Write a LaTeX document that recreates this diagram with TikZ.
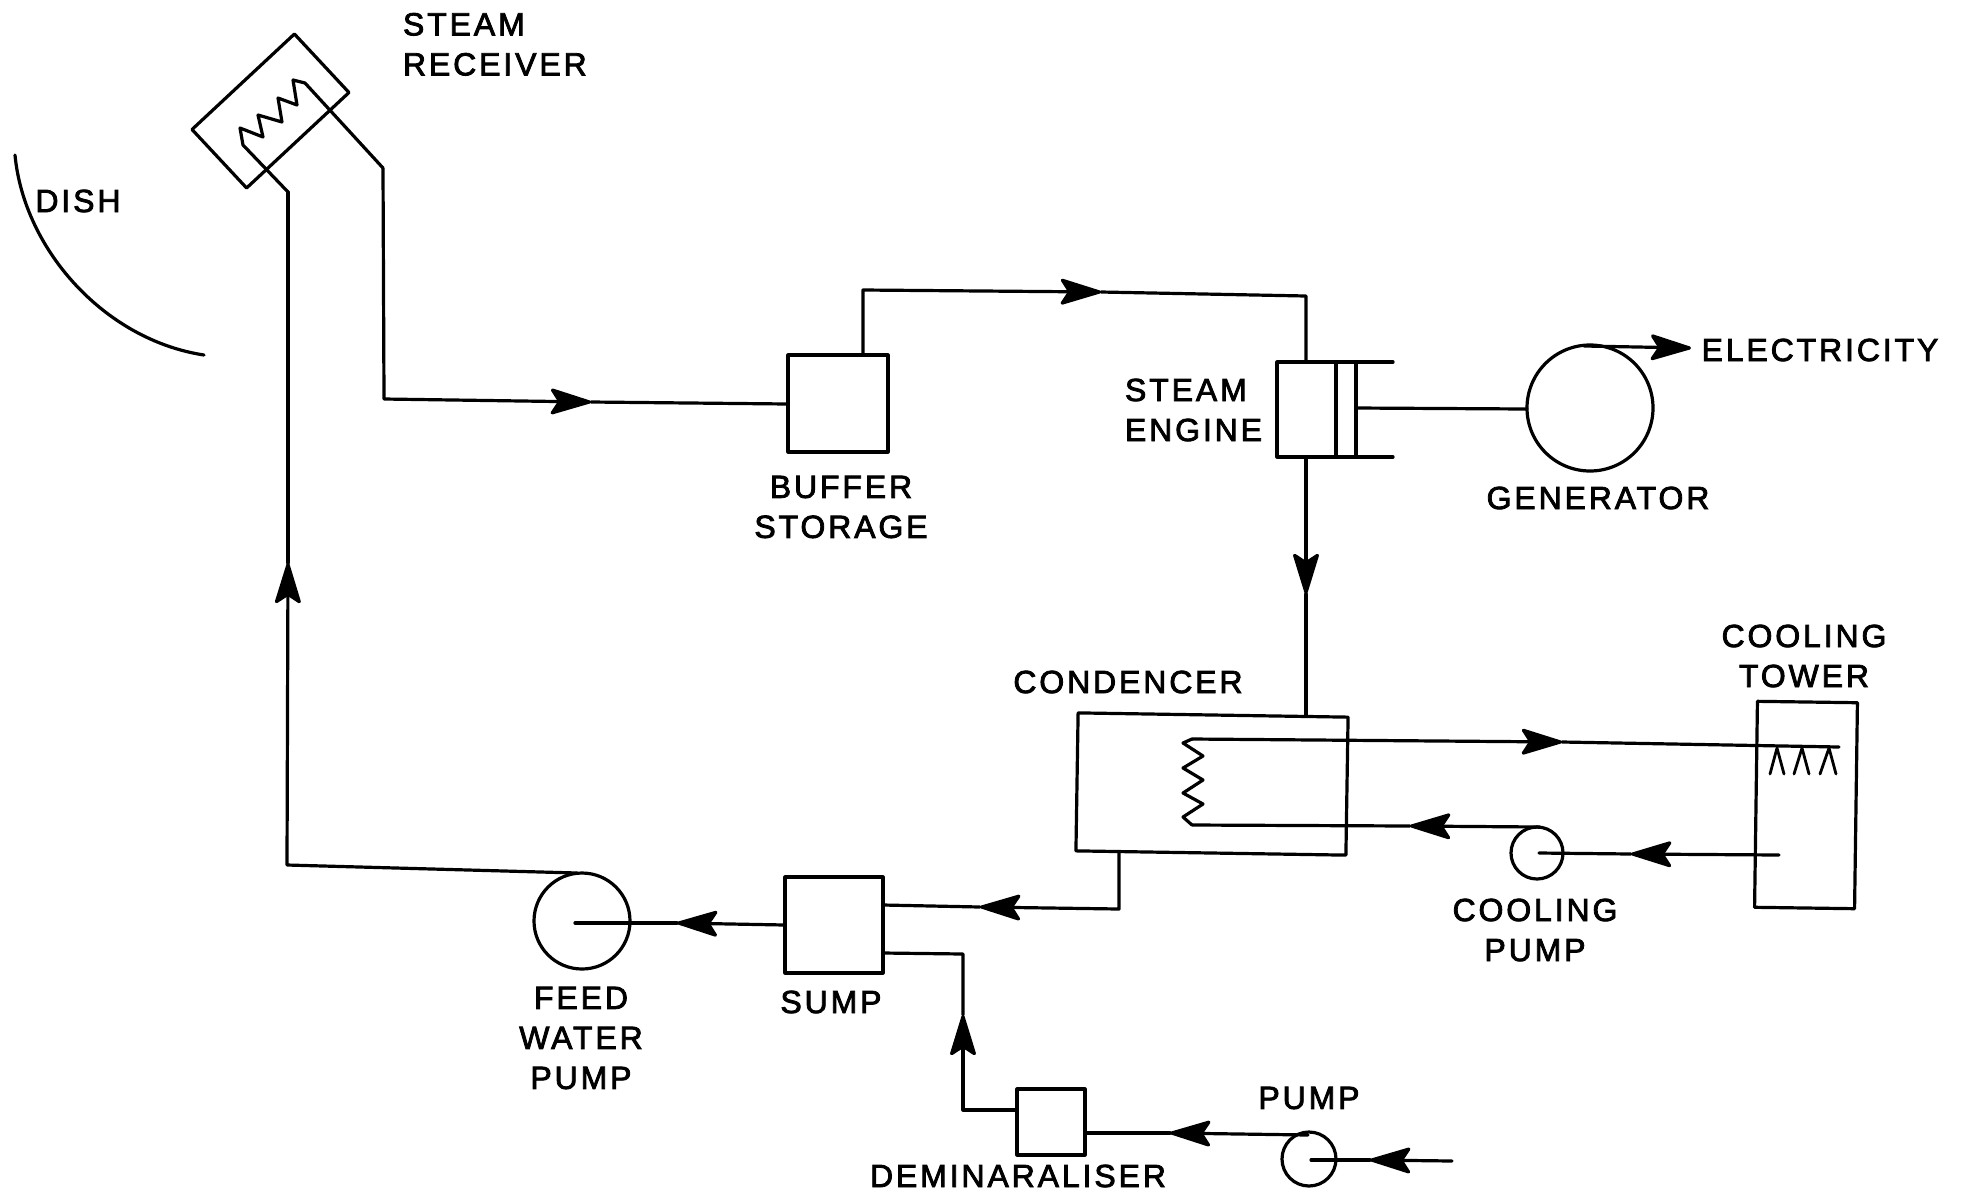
\documentclass[tikz,border=0pt]{standalone}
\usepackage{fontspec}
\setmainfont[LetterSpace=9,FakeBold=2.5]{Liberation Sans}
\usetikzlibrary{arrows.meta}
\tikzset{
  x=1pt,y=-1pt,
  ln/.style={line width=3.2pt,line join=round,line cap=round,black},
  box/.style={ln,draw,rectangle,inner sep=0pt,outer sep=0pt,fill=none},
  ring/.style={ln,draw,circle,inner sep=0pt,outer sep=0pt},
  lbl/.style={inner sep=0pt,outer sep=0pt,align=center,font=\fontsize{32}{40}\selectfont,text=black},
  flow/.style={ln,-{Stealth[length=46pt,width=28pt,inset=9pt,round=false]}},
}
\begin{document}
\begin{tikzpicture}
\useasboundingbox (0,0) rectangle (1962,1195);
% equipment
\node[box,minimum width=140pt,minimum height=80pt,rotate=43] (receiver) at (270.5,111) {};
\node[box,minimum width=100pt,minimum height=97pt] (buffer) at (838,403.5) {};
\node[box,minimum width=79pt,minimum height=95pt] (engine) at (1316.5,409.5) {};
\node[ring,minimum size=126pt] (generator) at (1590,408) {};
\node[box,minimum width=270pt,minimum height=138pt,rotate=-0.9] (condenser) at (1212,784) {};
\node[box,minimum width=100pt,minimum height=206pt,rotate=-0.8] (tower) at (1806,805) {};
\node[ring,minimum size=52pt] (coolpump) at (1537,853) {};
\node[box,minimum width=98pt,minimum height=96pt] (sump) at (834,925) {};
\node[ring,minimum size=96pt] (feedpump) at (582,921) {};
\node[box,minimum width=68pt,minimum height=66pt] (demin) at (1051,1122) {};
\node[ring,minimum size=54pt] (pump) at (1309,1159) {};
% free points
\coordinate (rxIn) at (288,192);
\coordinate (rxOut) at (383,168);
\coordinate (c1) at (384,399);
\coordinate (a1) at (591,402);
\coordinate (b1) at (788,404);
\coordinate (b2) at (863,355);
\coordinate (c2) at (863,290);
\coordinate (a2) at (1101,292);
\coordinate (c3) at (1306,296);
\coordinate (e1) at (1306,362);
\coordinate (e2) at (1306,457);
\coordinate (a3) at (1306,594);
\coordinate (k1) at (1306,716);
\coordinate (e3) at (1356,408);
\coordinate (g1) at (1527,409);
\coordinate (g2) at (1584,346);
\coordinate (a4) at (1691,348);
\coordinate (coilA) at (1192,739);
\coordinate (coilB) at (1192,825);
\coordinate (a5) at (1562,742);
\coordinate (sprayEnd) at (1839,747);
\coordinate (pc1) at (1540,827);
\coordinate (a6) at (1410,826);
\coordinate (pc2) at (1539,853);
\coordinate (a7) at (1631,854);
\coordinate (tw1) at (1779,855);
\coordinate (k2) at (1119,852);
\coordinate (c4) at (1119,909);
\coordinate (a8) at (980,907);
\coordinate (s1) at (883,905);
\coordinate (s2) at (785,925);
\coordinate (a9) at (677,923);
\coordinate (fp1) at (575,923);
\coordinate (fp2) at (577,873);
\coordinate (c5) at (287,865);
\coordinate (a10) at (288,563);
\coordinate (s3) at (883,953);
\coordinate (c6) at (963,954);
\coordinate (a11) at (963,1015);
\coordinate (c7) at (963,1110);
\coordinate (d1) at (1017,1110);
\coordinate (d2) at (1085,1133);
\coordinate (a12) at (1170,1133);
\coordinate (p1) at (1308,1135);
\coordinate (p2) at (1311,1160);
\coordinate (a13) at (1370,1160);
\coordinate (p3) at (1452,1161);
% receiver coil
\draw[ln] (rxIn) -- (243,145) -- (240,128) -- (263,137) -- (258,115) -- (282,122) -- (278,98) -- (297,105) -- (293,80) -- (305,83) -- (rxOut);
% piping
\draw[flow] (rxOut) -- (c1) -- (a1);
\draw[ln] (a1) -- (b1);
\draw[flow] (b2) -- (c2) -- (a2);
\draw[ln] (a2) -- (c3) -- (e1);
\draw[flow] (e2) -- (a3);
\draw[ln] (a3) -- (k1);
\draw[ln] (e3) -- (g1);
\draw[flow] (g2) -- (a4);
% engine piston
\draw[ln] (1336,362) -- (1336,457);
\draw[ln] (1356,362) -- (1393,362);
\draw[ln] (1356,457) -- (1393,457);
% condenser coil
\draw[ln] (coilA) -- (1183,743) -- (1203,756) -- (1183,768) -- (1203,780) -- (1183,793) -- (1203,804) -- (1183,817) -- (coilB);
\draw[flow] (coilA) -- (a5);
\draw[ln] (a5) -- (sprayEnd);
\draw[flow] (pc1) -- (a6);
\draw[ln] (a6) -- (coilB);
\draw[flow] (tw1) -- (a7);
\draw[ln] (a7) -- (pc2);
% spray
\draw[ln,line width=2.8pt] (1770,774) -- (1777,748) -- (1784,774);
\draw[ln,line width=2.8pt] (1794,774) -- (1802,748) -- (1809,774);
\draw[ln,line width=2.8pt] (1820,774) -- (1829,748) -- (1836,774);
% condensate
\draw[flow] (k2) -- (c4) -- (a8);
\draw[ln] (a8) -- (s1);
\draw[flow] (s2) -- (a9);
\draw[ln] (a9) -- (fp1);
\draw[flow] (fp2) -- (c5) -- (a10);
\draw[ln] (a10) -- (rxIn);
\draw[flow] (d1) -- (c7) -- (a11);
\draw[ln] (a11) -- (c6) -- (s3);
\draw[flow] (p1) -- (a12);
\draw[ln] (a12) -- (d2);
\draw[flow] (p3) -- (a13);
\draw[ln] (a13) -- (p2);
% dish
\draw[ln] (15,155) .. controls (24,250) and (105,340) .. (204,355);
% labels
\node[lbl,align=left,anchor=north west] (tReceiver) at (403,13) {STEAM\\RECEIVER};
\node[lbl] (tDish) at (78,201) {DISH};
\node[lbl] (tBuffer) at (841,507) {BUFFER\\STORAGE};
\node[lbl,align=left,anchor=west] (tEngine) at (1125,410) {STEAM\\ENGINE};
\node[lbl] (tGen) at (1598,498) {GENERATOR};
\node[lbl] (tElec) at (1820,350) {ELECTRICITY};
\node[lbl] (tCond) at (1128,682) {CONDENCER};
\node[lbl] (tTower) at (1804,656) {COOLING\\TOWER};
\node[lbl] (tCool) at (1535,930) {COOLING\\PUMP};
\node[lbl] (tFeed) at (581,1038) {FEED\\WATER\\PUMP};
\node[lbl] (tSump) at (831,1002) {SUMP};
\node[lbl] (tPump) at (1309,1098) {PUMP};
\node[lbl] (tDemin) at (1018,1176) {DEMINARALISER};
\end{tikzpicture}
\end{document}
